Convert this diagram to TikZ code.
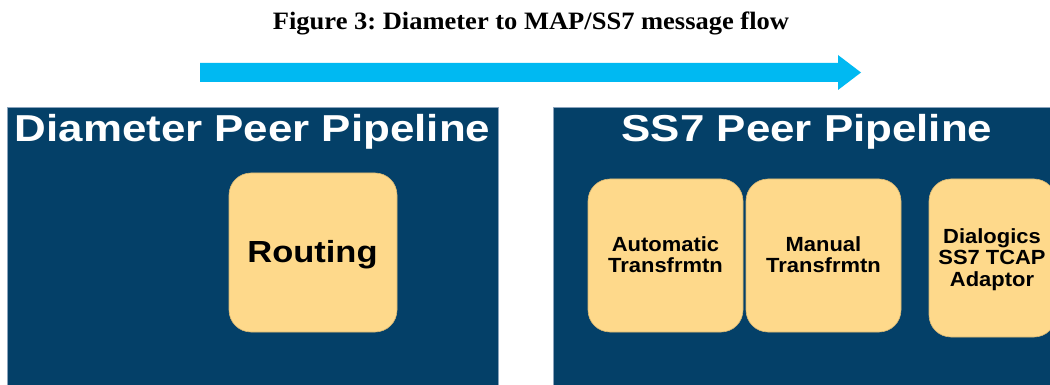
\documentclass[tikz,border=0pt]{standalone}
\usepackage{fontspec}
\setmainfont{Liberation Serif}
\newfontfamily\arialb{Liberation Sans}[BoldFont={* Bold}]
\frenchspacing
\definecolor{pipeblue}{HTML}{044068}
\definecolor{pipeedge}{HTML}{8AA3BC}
\definecolor{stagefill}{HTML}{FED98B}
\definecolor{stageedge}{HTML}{D9B873}
\definecolor{flowcyan}{HTML}{00B9F2}
\newcommand{\wide}[2]{\scalebox{#1}[1]{#2}}
\tikzset{
  pipeline/.style={fill=pipeblue, draw=pipeedge, line width=0.8pt},
  pipetitle/.style={text=white, font=\arialb\bfseries\fontsize{37.5}{40}\selectfont, inner sep=0pt, anchor=base},
  stage/.style={fill=stagefill, draw=stageedge, line width=0.6pt, rounded corners=22pt},
  stagetext/.style={font=\arialb\bfseries\fontsize{20.5}{20.5}\selectfont, align=center, inner sep=0pt, anchor=base},
}
\begin{document}
\begin{tikzpicture}[x=1pt, y=-1pt]
\useasboundingbox (0,0) rectangle (1050,385);
\clip (0,0) rectangle (1050,385);
\fill[white] (0,0) rectangle (1050,385);

% caption
\node[font=\bfseries\fontsize{25}{26}\selectfont, inner sep=0pt, anchor=base] (caption) at (531,30) {\wide{1.06}{Figure 3: Diameter to MAP/SS7 message flow}};

% flow direction arrow
\fill[flowcyan] (200,63) -- (838,63) -- (838,55) -- (861,72.5) -- (838,90) -- (838,82) -- (200,82) -- cycle;

% Diameter side
\draw[pipeline] (7,107) rectangle (498,400);
\node[pipetitle] (diamtitle) at (252.5,142) {\wide{1.17}{Diameter Peer Pipeline}};
\draw[stage] (229,173) rectangle (397,332);
\node[font=\arialb\bfseries\fontsize{30.5}{32}\selectfont, inner sep=0pt, anchor=base] (routing) at (312.5,262) {\wide{1.13}{Routing}};

% SS7 side
\draw[pipeline] (553,107) rectangle (1070,400);
\node[pipetitle] (ss7title) at (807,142) {\wide{1.17}{SS7 Peer Pipeline}};
\draw[stage] (588,179) rectangle (743,332);
\node[stagetext] (auto) at (665.5,272) {\wide{1.07}{Automatic}\\\wide{1.07}{Transfrmtn}};
\draw[stage] (746,179) rectangle (901,332);
\node[stagetext] (manual) at (823.5,272) {\wide{1.07}{Manual}\\\wide{1.07}{Transfrmtn}};
\draw[stage] (929,179) rectangle (1056,337);
\node[stagetext, font=\arialb\bfseries\fontsize{20.5}{21.5}\selectfont] (tcap) at (992,286) {\wide{1.07}{Dialogics}\\\wide{1.07}{SS7 TCAP}\\\wide{1.07}{Adaptor}};
\end{tikzpicture}
\end{document}
